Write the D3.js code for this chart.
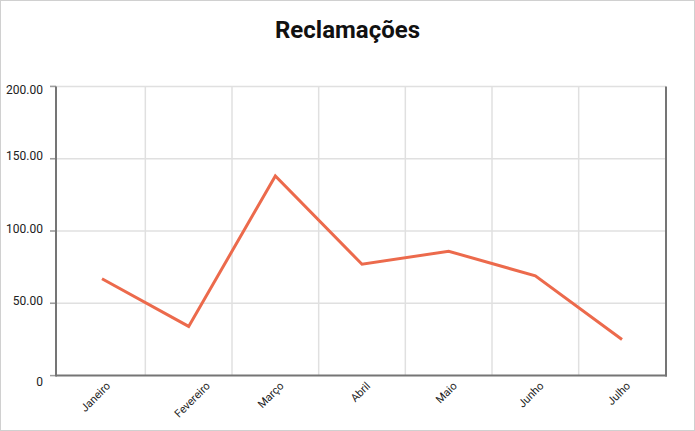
<!DOCTYPE html>
<html><head><meta charset="utf-8">
<script src="https://cdn.jsdelivr.net/npm/d3@7"></script>
<style>
html,body{margin:0;padding:0;background:#fff;}
svg{display:block;font-family:Roboto,"Noto Sans",sans-serif;}
</style></head>
<body>
<svg id="c" width="695" height="431"></svg>
<script>
const title = "Reclamações";
const months = ["Janeiro","Fevereiro","Março","Abril","Maio","Junho","Julho"];
const values = [67, 34, 138, 77, 86, 69, 25];
const yTicks = [0, 50, 100, 150, 200];

(function(){
const svg = d3.select("#c");
const W = 695, H = 431;
svg.append("rect").attr("x",0.5).attr("y",0.5).attr("width",W-1).attr("height",H-1)
  .attr("fill","#fff").attr("stroke","#d0d0d0");

const pL = 56, pR = 666, pT = 86.4, pB = 375.6;
const x = d3.scalePoint().domain(months).range([102, 622]);
const step = x.step();
const y = d3.scaleLinear().domain([0,200]).range([pB, pT]);

// horizontal gridlines
svg.append("g").selectAll("line").data(yTicks.filter(d=>d>0)).join("line")
  .attr("x1", pL-6).attr("x2", pR).attr("y1", d=>y(d)).attr("y2", d=>y(d))
  .attr("stroke","#e0e0e0").attr("stroke-width",1.5);
// tick marks
svg.append("g").selectAll("line").data(yTicks).join("line")
  .attr("x1", pL-6).attr("x2", pL).attr("y1", d=>y(d)).attr("y2", d=>y(d))
  .attr("stroke","#9e9e9e").attr("stroke-width",1.5);
// vertical gridlines between categories
svg.append("g").selectAll("line").data(months.slice(1)).join("line")
  .attr("x1", d=>x(d)-step/2).attr("x2", d=>x(d)-step/2).attr("y1", pT).attr("y2", pB)
  .attr("stroke","#e0e0e0").attr("stroke-width",1.5);

// y labels (top/bottom labels nudged inward like the reference)
const yOff = d => d === 0 ? 10 : (d === 200 ? 8 : 1.5);
svg.append("g").selectAll("text").data(yTicks).join("text")
  .attr("x", 43).attr("y", d=>y(d)+yOff(d))
  .attr("text-anchor","end").attr("font-size",12).attr("fill","#212121")
  .text(d=> d===0 ? "0" : d3.format(".2f")(d));

// axes lines
svg.append("line").attr("x1",pL).attr("x2",pL).attr("y1",pT).attr("y2",pB+1)
  .attr("stroke","#757575").attr("stroke-width",2);
svg.append("line").attr("x1",pR).attr("x2",pR).attr("y1",pT).attr("y2",pB+1)
  .attr("stroke","#757575").attr("stroke-width",2);
svg.append("line").attr("x1",pL).attr("x2",pR+1).attr("y1",pB).attr("y2",pB)
  .attr("stroke","#757575").attr("stroke-width",2);

// x labels
svg.append("g").selectAll("text").data(months).join("text")
  .attr("transform", d=>{
    const dx = d.length > 8 ? 22 : 9;
    return `translate(${x(d)+dx},${pB+11}) rotate(-45)`;
  })
  .attr("text-anchor","end").attr("font-size",11).attr("fill","#212121")
  .text(d=>d);

// line
const line = d3.line().x((d,i)=>x(months[i])).y(d=>y(d));
svg.append("path").datum(values).attr("d", line)
  .attr("fill","none").attr("stroke","#ec6a4c").attr("stroke-width",3)
  .attr("stroke-linejoin","miter");

// title
svg.append("text").attr("x", 347.5).attr("y", 38).attr("text-anchor","middle")
  .attr("font-size",24).attr("font-weight","bold").attr("fill","#111")
  .text(title);
})();
</script>
</body></html>
